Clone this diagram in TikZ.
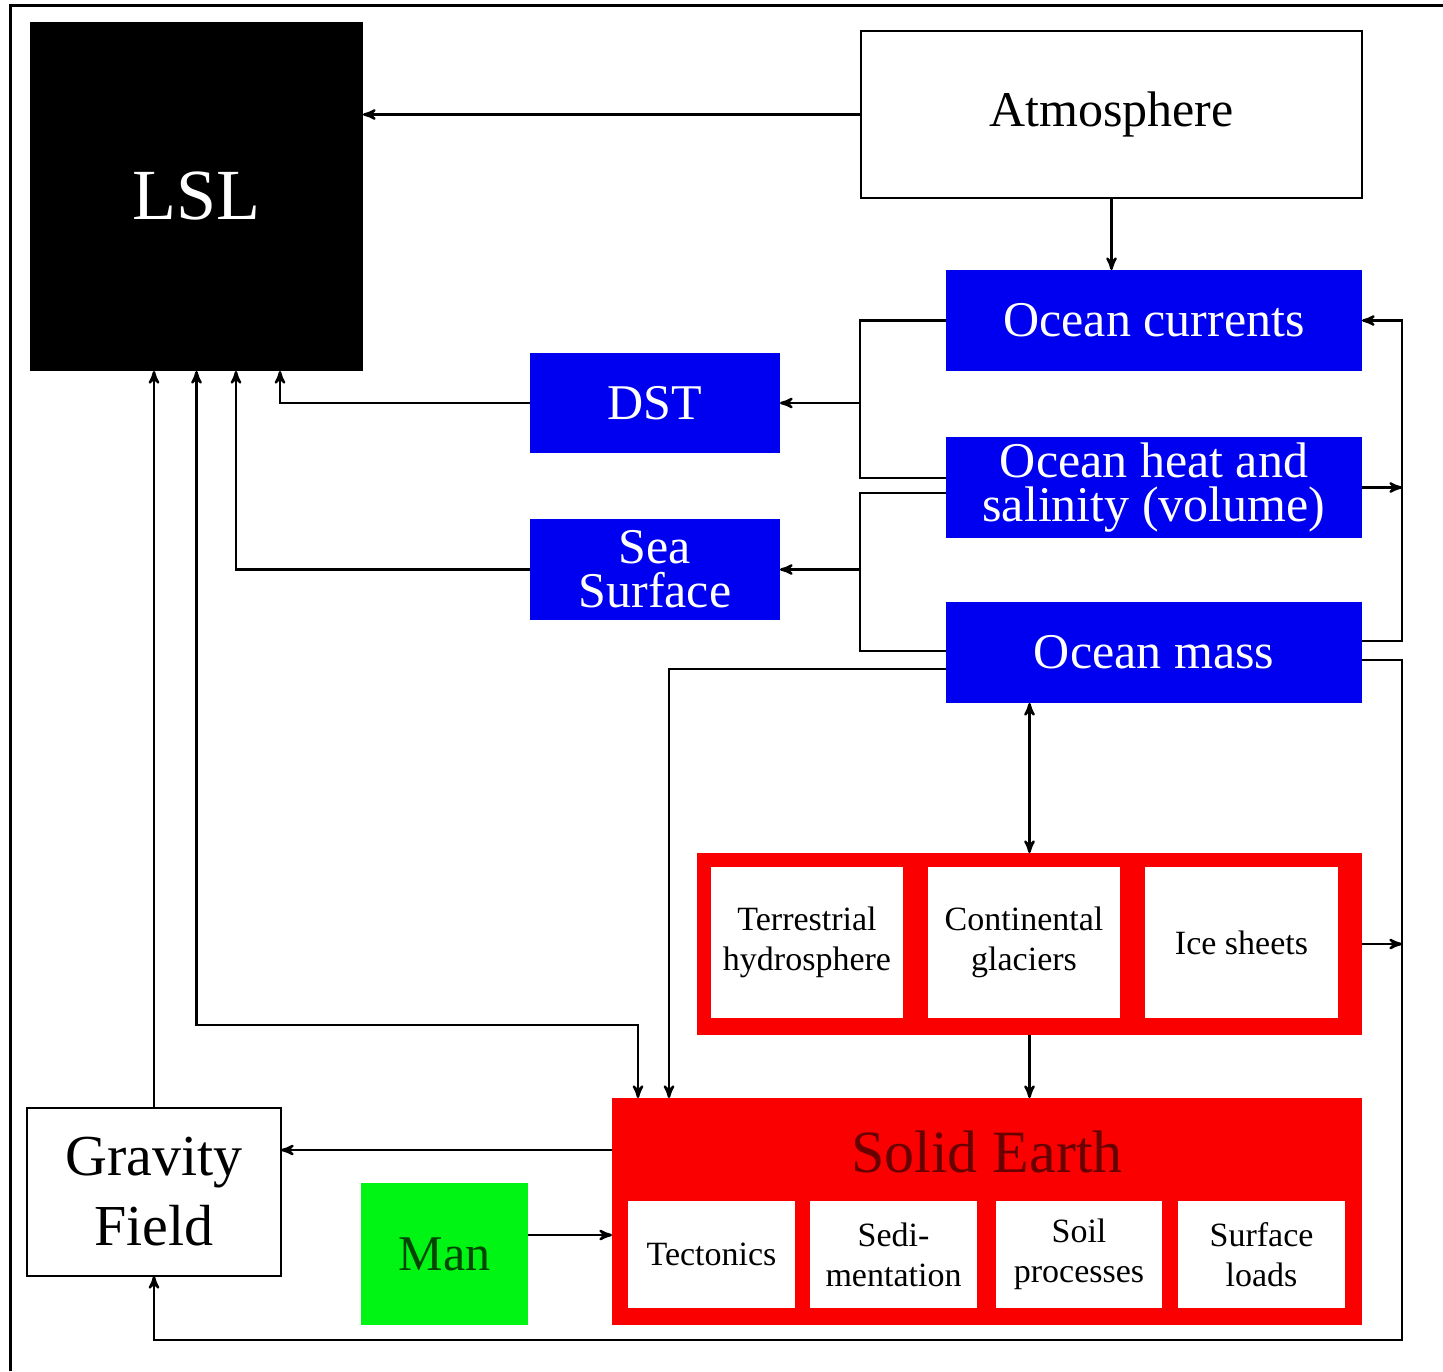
\documentclass[tikz,border=0pt]{standalone}
\usepackage{fontspec}
\setmainfont{Liberation Serif}
\usetikzlibrary{arrows, calc, positioning}
\definecolor{oceanblue}{RGB}{0,0,240}
\definecolor{earthred}{RGB}{250,0,0}
\definecolor{mangreen}{RGB}{0,245,20}
\definecolor{darkred}{RGB}{105,0,0}
\definecolor{darkgreen}{RGB}{0,70,0}

\begin{document}
\begin{tikzpicture}[x=0.5pt, y=-0.5pt, >=stealth', line width=1.2pt, inner sep=0pt, outer sep=0pt]
	\tikzset{sz/.style 2 args={minimum width=#1*0.5pt, minimum height=#2*0.5pt}}
	\tikzset{ocean/.style={fill=oceanblue, text=white, align=center, font=\fontsize{25}{22}\selectfont}}
	\tikzset{plain/.style={draw, fill=white, align=center}}
	\tikzset{part/.style={fill=white, align=center, font=\fontsize{17}{20}\selectfont}}
	\useasboundingbox (0,0) rectangle (1443,1371);
	\draw[line width=1.5pt] (10,1371) -- (10,5) -- (1443,5);

	% boxes
	\node[fill=black, text=white, sz={333}{349}, font=\fontsize{36}{40}\selectfont] (lsl) at (196.5,196.5) {LSL};
	\node[plain, sz={501}{167}, font=\fontsize{25}{30}\selectfont] (atm) at (1111.5,114.5) {Atmosphere};
	\node[ocean, sz={416}{101}] (cur) at (1154,320.5) {Ocean currents};
	\node[ocean, sz={416}{101}] (heat) at (1154,487.5) {Ocean heat and\\salinity (volume)};
	\node[ocean, sz={416}{101}] (mass) at (1154,652.5) {Ocean mass};
	\node[ocean, sz={250}{100}] (dst) at (655,403) {DST};
	\node[ocean, sz={250}{101}] (sea) at (655,569.5) {Sea\\Surface};

	\node[fill=earthred, sz={665}{182}] (land) at (1029.5,944) {};
	\node[part, sz={192}{151}] (terr) at (807,942.5) {Terrestrial\\hydrosphere};
	\node[part, sz={192}{151}] (glac) at (1024,942.5) {Continental\\glaciers};
	\node[part, sz={193}{151}] (ice) at (1241.5,942.5) {Ice sheets};

	\node[fill=earthred, sz={750}{227}] (solid) at (987,1211.5) {};
	\node[text=darkred, font=\fontsize{30}{34}\selectfont] (solidlbl) at (987,1152) {Solid Earth};
	\node[part, sz={167}{107}] (tect) at (711.5,1254.5) {Tectonics};
	\node[part, sz={167}{107}] (sedi) at (893.5,1254.5) {Sedi-\\mentation};
	\node[part, sz={166}{107}] (soil) at (1079,1254.5) {Soil\\processes};
	\node[part, sz={167}{107}] (surf) at (1261.5,1254.5) {Surface\\loads};

	\node[plain, sz={254}{168}, font=\fontsize{29}{35}\selectfont] (grav) at (154,1192) {Gravity\\Field};
	\node[fill=mangreen, text=darkgreen, sz={167}{142}, font=\fontsize{25}{30}\selectfont] (man) at (444.5,1254) {Man};

	% junctions
	\coordinate (jd) at (860,403);
	\coordinate (js) at (860,569.5);
	\coordinate (jl) at (638,1025);
	\coordinate (jr) at (1402,487.5);
	\coordinate (jb) at (1402,1340);

	% connectors
	\draw[->] (atm.west) -- (atm.west -| lsl.east);
	\draw[->] (atm.south) -- (cur.north -| atm.south);
	\draw (cur.west) -| (jd) |- ([yshift=4.75pt]heat.west);
	\draw[->] (jd) -- (jd -| dst.east);
	\draw ([yshift=-2.75pt]heat.west) -| (js) |- ([yshift=0.75pt]mass.west);
	\draw[->] (js) -- (js -| sea.east);
	\draw[->] (dst.west) -| ([xshift=41.75pt]lsl.south);
	\draw[->] (sea.west) -| ([xshift=19.75pt]lsl.south);
	\draw[->] (grav.north) -- (grav.north |- lsl.south);
	\draw[<->] (lsl.south) |- (jl) -- (jl |- solid.north);
	\draw[->] ([yshift=-8.25pt]mass.west) -| ([xshift=28.5pt]solid.north west);
	\draw[<->] (mass.south -| land.north) -- (land.north);
	\draw[->] (land.south) -- (land.south |- solid.north);
	\draw[->] ([yshift=21pt]grav.east -| solid.west) -- ([yshift=21pt]grav.east);
	\draw[->] ([yshift=9.5pt]man.east) -- ([yshift=9.5pt]man.east -| solid.west);
	\draw[->] ([yshift=5.75pt]mass.east) -| (jr) |- (cur.east);
	\draw[->] (heat.east) -- (jr);
	\draw[->] ([yshift=-3.75pt]mass.east) -| (jb) -| (grav.south);
	\draw[->] (land.east) -- (land.east -| jb);
\end{tikzpicture}
\end{document}
